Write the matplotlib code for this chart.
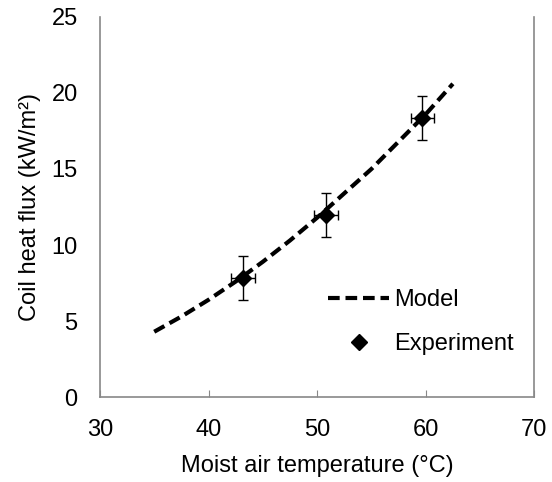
import matplotlib
matplotlib.use("Agg")
import matplotlib.pyplot as plt
from matplotlib.lines import Line2D

plt.rcParams['font.family'] = ['Liberation Sans', 'DejaVu Sans']

# Model curve
model_x = [35, 37.5, 40, 42.5, 45, 47.5, 50, 52.5, 55, 57.5, 60, 62.5]
model_y = [4.3, 5.3, 6.4, 7.6, 8.9, 10.3, 11.8, 13.4, 15.0, 16.8, 18.6, 20.6]

# Experiment points
exp_x = [43.2, 50.8, 59.7]
exp_y = [7.85, 11.95, 18.35]
exp_xerr = [1.1, 1.1, 1.1]
exp_yerr = [1.45, 1.45, 1.45]

xticks = [30, 40, 50, 60, 70]
yticks = [0, 5, 10, 15, 20, 25]

FS = 17

fig = plt.figure(figsize=(5.52, 4.82), dpi=100)
ax = fig.add_axes([0.181, 0.176, 0.787, 0.789])

ax.plot(model_x, model_y, color='black', lw=3, linestyle=(0, (2.8, 1.4)),
        label='Model', zorder=2)
ax.errorbar(exp_x, exp_y, xerr=exp_xerr, yerr=exp_yerr, fmt='D', color='black',
            markersize=8.5, ecolor='black', elinewidth=1, capsize=3.5, capthick=1,
            label='Experiment', zorder=3)

ax.set_xlim(30, 70)
ax.set_ylim(0, 25)
ax.set_xticks(xticks)
ax.set_yticks(yticks)
ax.tick_params(axis='x', direction='in', length=5, color='#888888', labelsize=FS, pad=16)
ax.tick_params(axis='y', length=0, labelsize=FS, pad=16)

for s in ['left', 'bottom', 'right']:
    ax.spines[s].set_color('#888888')
    ax.spines[s].set_linewidth(1.2)
ax.spines['top'].set_visible(False)

ax.set_xlabel('Moist air temperature (°C)', fontsize=FS, labelpad=10)
ax.set_ylabel('Coil heat flux (kW/m²)', fontsize=FS, labelpad=7.5)

h1 = Line2D([], [], color='black', lw=3, linestyle=(0, (2.8, 1.4)))
h2 = Line2D([], [], marker='D', color='black', linestyle='none', markersize=8.5)
leg = ax.legend([h1, h2], ['Model', 'Experiment'], loc='upper left',
                bbox_to_anchor=(0.525, 0.284), frameon=False, fontsize=FS,
                handlelength=2.6, handletextpad=0.2, labelspacing=0.92,
                borderpad=0, borderaxespad=0)

fig.savefig('out.png', dpi=100)
